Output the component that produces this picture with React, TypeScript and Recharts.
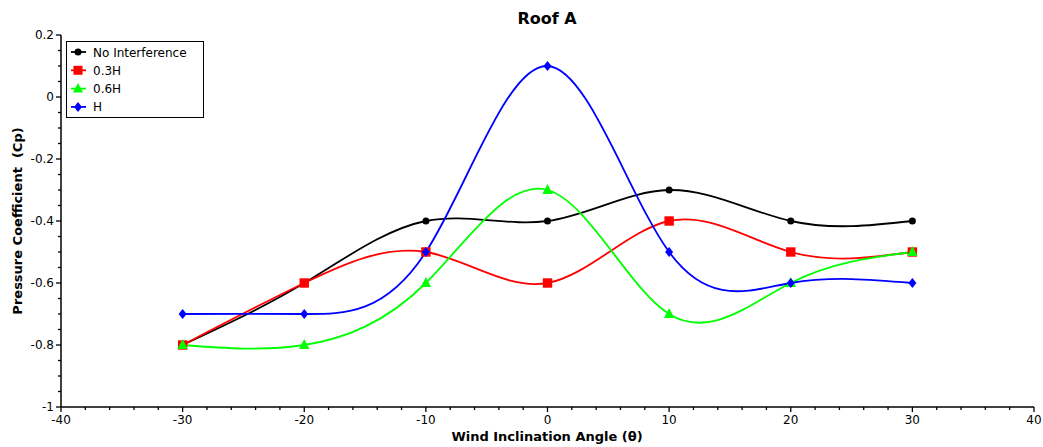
import React from 'react';
import { LineChart, Line, XAxis, YAxis } from 'recharts';

const angles = [-30, -20, -10, 0, 10, 20, 30];
const noInterference = [-0.8, -0.6, -0.4, -0.4, -0.3, -0.4, -0.4];
const h03 = [-0.8, -0.6, -0.5, -0.6, -0.4, -0.5, -0.5];
const h06 = [-0.8, -0.8, -0.6, -0.3, -0.7, -0.6, -0.5];
const hFull = [-0.7, -0.7, -0.5, 0.1, -0.5, -0.6, -0.6];

const xTicks = [-40, -38, -36, -34, -32, -30, -28, -26, -24, -22, -20, -18, -16, -14, -12, -10, -8, -6, -4, -2, 0, 2, 4, 6, 8, 10, 12, 14, 16, 18, 20, 22, 24, 26, 28, 30, 32, 34, 36, 38, 40];
const yTicks = [0.2, 0.15, 0.1, 0.05, 0, -0.05, -0.1, -0.15, -0.2, -0.25, -0.3, -0.35, -0.4, -0.45, -0.5, -0.55, -0.6, -0.65, -0.7, -0.75, -0.8, -0.85, -0.9, -0.95, -1];

const rows = angles.map((a, i) => ({ angle: a, ni: noInterference[i], h03: h03[i], h06: h06[i], h: hFull[i] }));

const FONT = 'DejaVu Sans';

const XTick = (props: any) => {
  const { x, y, payload } = props;
  const v = payload.value;
  const major = Math.abs(v % 10) < 1e-9;
  return (
    <g>
      <line x1={x} x2={x} y1={y} y2={y + (major ? 5 : 3)} stroke="#000" strokeWidth={1.3} />
      {major && (
        <text x={x} y={y + 17} textAnchor="middle" fontSize={12} fontFamily={FONT} fill="#000">{v}</text>
      )}
    </g>
  );
};

const YTick = (props: any) => {
  const { x, y, payload } = props;
  const v = payload.value;
  const major = Math.abs(v * 5 - Math.round(v * 5)) < 1e-9;
  const label = String(Math.round(v * 10) / 10);
  return (
    <g>
      <line x1={x} x2={x - (major ? 5 : 3)} y1={y} y2={y} stroke="#000" strokeWidth={1.3} />
      {major && (
        <text x={x - 7} y={y + 4} textAnchor="end" fontSize={12} fontFamily={FONT} fill="#000">{label}</text>
      )}
    </g>
  );
};

const CircleDot = (p: any) => (p.cx == null ? null : <circle cx={p.cx} cy={p.cy} r={3.5} fill="#000" />);
const SquareDot = (p: any) => (p.cx == null ? null : <rect x={p.cx - 4.7} y={p.cy - 4.7} width={9.4} height={9.4} fill="#ff0000" />);
const TriDot = (p: any) => (p.cx == null ? null : <polygon points={`${p.cx},${p.cy - 6} ${p.cx + 5.2},${p.cy + 4} ${p.cx - 5.2},${p.cy + 4}`} fill="#00ff00" />);
const DiamondDot = (p: any) => (p.cx == null ? null : <polygon points={`${p.cx},${p.cy - 5} ${p.cx + 4},${p.cy} ${p.cx},${p.cy + 5} ${p.cx - 4},${p.cy}`} fill="#0000ff" />);

const legendItems = [
  { name: 'No Interference', color: '#000000', kind: 'circle' },
  { name: '0.3H', color: '#ff0000', kind: 'square' },
  { name: '0.6H', color: '#00ff00', kind: 'tri' },
  { name: 'H', color: '#0000ff', kind: 'diamond' },
];

const LegendMarker = ({ kind, cx, cy, color }: any) => {
  if (kind === 'circle') return <circle cx={cx} cy={cy} r={3.5} fill={color} />;
  if (kind === 'square') return <rect x={cx - 4.5} y={cy - 4.5} width={9} height={9} fill={color} />;
  if (kind === 'tri') return <polygon points={`${cx},${cy - 5.5} ${cx + 5},${cy + 4} ${cx - 5},${cy + 4}`} fill={color} />;
  return <polygon points={`${cx},${cy - 5} ${cx + 4},${cy} ${cx},${cy + 5} ${cx - 4},${cy}`} fill={color} />;
};

export default function App() {
  return (
    <div style={{ position: 'absolute', left: 0, top: 0, width: 1043, height: 447, background: '#fff' }}>
      <LineChart width={1043} height={447} data={rows} margin={{ top: 35, right: 9, bottom: 0, left: 0 }}>
        <XAxis
          dataKey="angle"
          type="number"
          domain={[-40, 40]}
          ticks={xTicks}
          interval={0}
          tickSize={0}
          tickMargin={0}
          tickLine={false}
          tick={<XTick />}
          height={40}
          axisLine={{ stroke: '#000', strokeWidth: 1.5 }}
          allowDataOverflow
        />
        <YAxis
          type="number"
          domain={[-1, 0.2]}
          ticks={yTicks}
          interval={0}
          tickSize={0}
          tickMargin={0}
          tickLine={false}
          tick={<YTick />}
          width={61}
          axisLine={{ stroke: '#000', strokeWidth: 1.5 }}
          allowDataOverflow
        />
        <Line dataKey="ni" name="No Interference" type="natural" stroke="#000000" strokeWidth={1.8} dot={<CircleDot />} activeDot={false} isAnimationActive={false} />
        <Line dataKey="h03" name="0.3H" type="natural" stroke="#ff0000" strokeWidth={1.8} dot={<SquareDot />} activeDot={false} isAnimationActive={false} />
        <Line dataKey="h06" name="0.6H" type="natural" stroke="#00ff00" strokeWidth={1.8} dot={<TriDot />} activeDot={false} isAnimationActive={false} />
        <Line dataKey="h" name="H" type="natural" stroke="#0000ff" strokeWidth={1.8} dot={<DiamondDot />} activeDot={false} isAnimationActive={false} />
      </LineChart>
      <svg width={1043} height={447} style={{ position: 'absolute', left: 0, top: 0, pointerEvents: 'none' }}>
        <text x={547} y={24} textAnchor="middle" fontSize={16} fontWeight="bold" fontFamily={FONT} fill="#000">Roof A</text>
        <text x={547} y={441} textAnchor="middle" fontSize={13} fontWeight="bold" fontFamily={FONT} fill="#000">Wind Inclination Angle (θ)</text>
        <text transform="translate(22,221) rotate(-90)" x={0} y={0} textAnchor="middle" fontSize={13} fontWeight="bold" fontFamily={FONT} fill="#000" style={{ whiteSpace: 'pre' }}>{'Pressure Coefficient  (Cp)'}</text>
        <rect x={66.5} y={41.5} width={137} height={76} fill="#fff" stroke="#000" strokeWidth={1} />
        {legendItems.map((it, i) => {
          const cy = 52 + i * 18.3;
          return (
            <g key={it.name}>
              <line x1={71} x2={86} y1={cy} y2={cy} stroke={it.color} strokeWidth={1.8} />
              <LegendMarker kind={it.kind} cx={78} cy={cy} color={it.color} />
              <text x={93} y={cy + 4.5} fontSize={12} fontFamily={FONT} fill="#000">{it.name}</text>
            </g>
          );
        })}
      </svg>
    </div>
  );
}
